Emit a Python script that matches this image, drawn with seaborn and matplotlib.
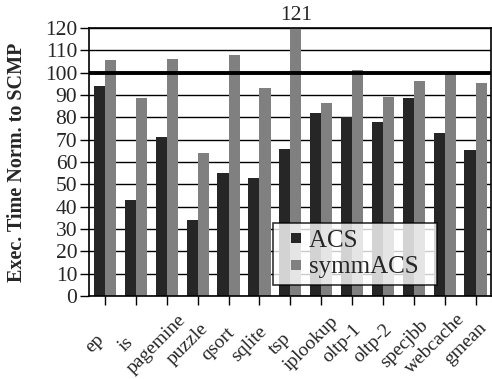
import matplotlib
matplotlib.use("Agg")
import matplotlib.pyplot as plt
import matplotlib.transforms as mtransforms
from matplotlib.lines import Line2D
import seaborn as sns
import pandas as pd

benchmarks = ["ep", "is", "pagemine", "puzzle", "qsort", "sqlite", "tsp",
              "iplookup", "oltp-1", "oltp-2", "specjbb", "webcache", "gmean"]
acs = [94, 43, 71, 34, 55, 53, 66, 82, 80, 78, 88.5, 73, 65.5]
symm_acs = [105.5, 88.5, 106, 64, 108, 93, 121, 86.5, 101, 89, 96.5, 99.5, 95.5]
series_names = ["ACS", "symmACS"]
colors = ["#262626", "#808080"]
yticks = list(range(0, 121, 10))

df = pd.DataFrame({
    "bench": benchmarks * 2,
    "value": acs + symm_acs,
    "config": [series_names[0]] * len(acs) + [series_names[1]] * len(symm_acs),
})

sns.set_style("white")
plt.rcParams["font.family"] = ["Liberation Serif", "DejaVu Serif"]

fig = plt.figure(figsize=(4.92, 3.79), dpi=100)
ax = fig.add_axes([0.181, 0.219, 0.817, 0.707])

sns.barplot(data=df, x="bench", y="value", hue="config",
            palette=colors, width=0.72, saturation=1,
            linewidth=0, ax=ax, zorder=2, legend=False)

ax.set_ylim(0, 120)
ax.set_xlim(-0.52, 12.5)
ax.set_yticks(yticks)
ax.set_yticklabels([str(t) for t in yticks], fontsize=15.5)
ax.yaxis.grid(True, color="black", linewidth=1.0, zorder=0)
ax.set_axisbelow(True)
ax.axhline(100, color="black", linewidth=2.8, zorder=5)

ax.set_xticks(range(len(benchmarks)))
ax.set_xticklabels(benchmarks, rotation=45, ha="center", va="center",
                   rotation_mode="anchor", fontsize=14)
ax.tick_params(axis="both", direction="out", length=6.5, width=1,
               color="black", bottom=True, left=True)
ax.tick_params(axis="x", pad=28)
ax.tick_params(axis="y", pad=2)
shift = mtransforms.ScaledTranslation(-0.10, 0, fig.dpi_scale_trans)
for lbl in ax.get_xticklabels():
    lbl.set_transform(lbl.get_transform() + shift)

ax.set_xlabel("")
ax.set_ylabel("Exec. Time Norm. to SCMP", fontsize=14.5, fontweight="bold")
ax.yaxis.set_label_coords(-0.154, 0.5)

for s in ax.spines.values():
    s.set_color("black")
    s.set_linewidth(1.2)

# value label for the bar that runs off the top of the axis
i_tsp = benchmarks.index("tsp")
ax.text(i_tsp + 0.18, 121.5, f"{symm_acs[i_tsp]:g}", ha="center", va="bottom",
        fontsize=15.5, clip_on=False)

handles = [Line2D([], [], linestyle="none", marker="s", markersize=7.2,
                  markerfacecolor=c, markeredgewidth=0) for c in colors]
leg = ax.legend(handles, [n + "  " for n in series_names],
                loc="lower right", bbox_to_anchor=(0.866, 0.042), fontsize=18,
                frameon=True, fancybox=False, edgecolor="black",
                handlelength=1.4, handletextpad=-0.2,
                borderpad=0.25, labelspacing=0.15, borderaxespad=0)
leg.get_frame().set_linewidth(1.2)

fig.savefig("out.png", dpi=100)
